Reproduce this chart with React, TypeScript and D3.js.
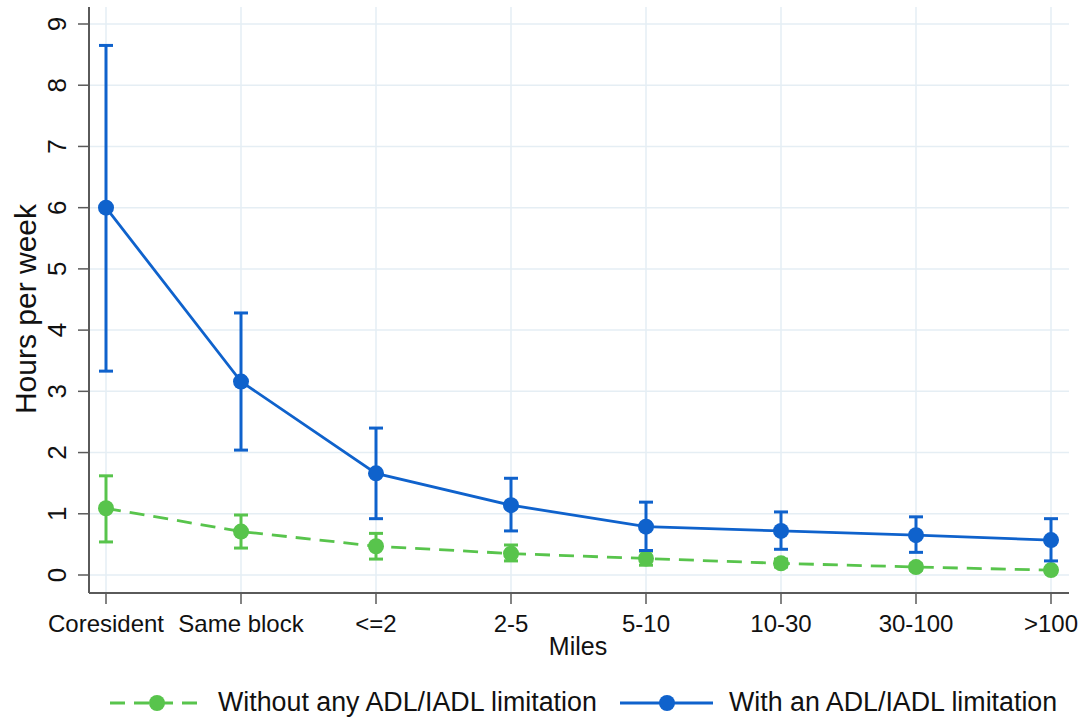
import React from "react";
import * as d3 from "d3";

const categories = ["Coresident", "Same block", "<=2", "2-5", "5-10", "10-30", "30-100", ">100"];

const withoutMean = [1.09, 0.71, 0.47, 0.35, 0.27, 0.19, 0.13, 0.08];
const withoutLow = [0.54, 0.44, 0.26, 0.23, 0.16, 0.13, 0.08, 0.04];
const withoutHigh = [1.62, 0.98, 0.68, 0.49, 0.39, 0.26, 0.18, 0.12];

const withMean = [6.0, 3.16, 1.66, 1.14, 0.79, 0.72, 0.65, 0.57];
const withLow = [3.33, 2.04, 0.92, 0.72, 0.4, 0.42, 0.37, 0.23];
const withHigh = [8.65, 4.28, 2.4, 1.58, 1.19, 1.03, 0.95, 0.92];

const yTicks = [0, 1, 2, 3, 4, 5, 6, 7, 8, 9];

const BLUE = "#0f62cc";
const GREEN = "#58c44c";
const GRID = "#e5eef4";
const AXIS = "#5a5a5a";
const FONT = "'Liberation Sans', Arial, sans-serif";

export default function App() {
  const x = d3.scalePoint<string>().domain(categories).range([106, 1051]);
  const y = d3.scaleLinear().domain([0, 9]).range([575, 24]);
  const left = 89, right = 1069, top = 7, bottom = 593;

  const line = d3
    .line<number>()
    .x((d, i) => x(categories[i]) as number)
    .y((d) => y(d));

  const series = [
    { mean: withoutMean, lo: withoutLow, hi: withoutHigh, color: GREEN, dash: "15,9" },
    { mean: withMean, lo: withLow, hi: withHigh, color: BLUE, dash: null },
  ];

  return (
    <svg
      width={1088}
      height={719}
      style={{ position: "absolute", left: 0, top: 0, background: "#fff" }}
      fontFamily={FONT}
    >
      {/* grid */}
      {yTicks.map((t) => (
        <line key={"gy" + t} x1={left} x2={right} y1={y(t)} y2={y(t)} stroke={GRID} strokeWidth={1.5} />
      ))}
      {categories.map((c) => (
        <line key={"gx" + c} x1={x(c)} x2={x(c)} y1={top} y2={bottom} stroke={GRID} strokeWidth={1.5} />
      ))}

      {/* axes */}
      <line x1={left} x2={left} y1={top} y2={bottom} stroke={AXIS} strokeWidth={2} />
      <line x1={left} x2={right} y1={bottom} y2={bottom} stroke={AXIS} strokeWidth={2} />
      {yTicks.map((t) => (
        <g key={"ty" + t}>
          <line x1={left - 11} x2={left} y1={y(t)} y2={y(t)} stroke={AXIS} strokeWidth={1.5} />
          <text
            transform={`translate(66,${y(t)}) rotate(-90)`}
            textAnchor="middle"
            fontSize={26}
            fill="#111"
          >
            {t}
          </text>
        </g>
      ))}
      {categories.map((c) => (
        <g key={"tx" + c}>
          <line x1={x(c)} x2={x(c)} y1={bottom} y2={bottom + 11} stroke={AXIS} strokeWidth={1.5} />
          <text x={x(c)} y={632} textAnchor="middle" fontSize={24} fill="#111">
            {c}
          </text>
        </g>
      ))}
      <text x={578} y={655} textAnchor="middle" fontSize={25} fill="#111">
        Miles
      </text>
      <text
        transform={`translate(36,${309}) rotate(-90)`}
        textAnchor="middle"
        fontSize={30}
        fill="#111"
      >
        Hours per week
      </text>

      {/* series */}
      {series.map((s, si) => (
        <g key={"s" + si}>
          <path
            d={line(s.mean) as string}
            fill="none"
            stroke={s.color}
            strokeWidth={2.8}
            strokeDasharray={s.dash ?? undefined}
          />
          {s.mean.map((m, i) => {
            const cx = x(categories[i]) as number;
            return (
              <g key={i}>
                <line x1={cx} x2={cx} y1={y(s.lo[i])} y2={y(s.hi[i])} stroke={s.color} strokeWidth={3} />
                <line x1={cx - 7} x2={cx + 7} y1={y(s.lo[i])} y2={y(s.lo[i])} stroke={s.color} strokeWidth={3} />
                <line x1={cx - 7} x2={cx + 7} y1={y(s.hi[i])} y2={y(s.hi[i])} stroke={s.color} strokeWidth={3} />
                <circle cx={cx} cy={y(m)} r={8} fill={s.color} />
              </g>
            );
          })}
        </g>
      ))}

      {/* legend */}
      <g>
        <line x1={110} x2={198} y1={703} y2={703} stroke={GREEN} strokeWidth={2.8} strokeDasharray="15,9" />
        <circle cx={157} cy={703} r={8} fill={GREEN} />
        <text x={218} y={711} fontSize={26.8} fill="#111">
          Without any ADL/IADL limitation
        </text>
        <line x1={620} x2={713} y1={703} y2={703} stroke={BLUE} strokeWidth={2.8} />
        <circle cx={667} cy={703} r={8} fill={BLUE} />
        <text x={729} y={711} fontSize={26.8} fill="#111">
          With an ADL/IADL limitation
        </text>
      </g>
    </svg>
  );
}
